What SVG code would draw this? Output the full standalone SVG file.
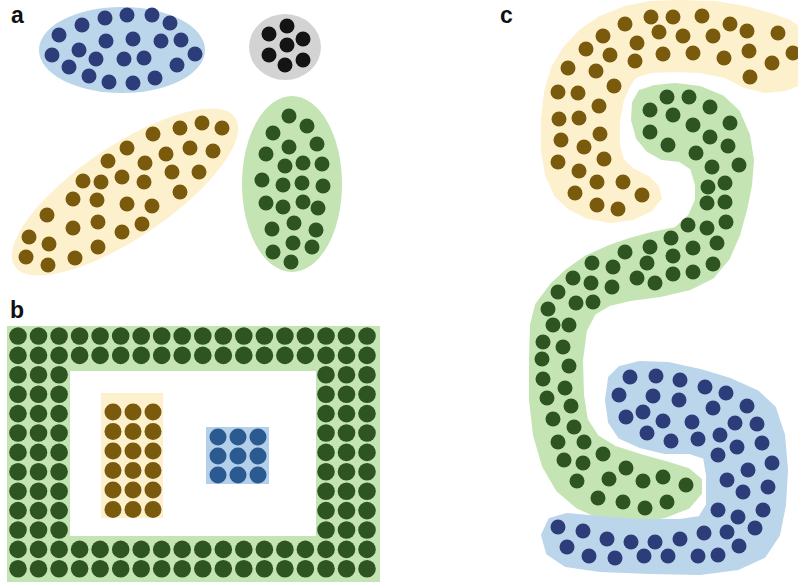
<svg xmlns="http://www.w3.org/2000/svg" width="798" height="584" viewBox="0 0 798 584">
<style>
.lbl{font-family:"Liberation Sans",Arial,sans-serif;font-weight:bold;font-size:23px;fill:#111}
.bbg{fill:#bbd5eb}.bd{fill:#2c3d7a}
.ybg{fill:#fdf0cc}.yd{fill:#7a5a0c}
.gbg{fill:#c4e4b3}.gd{fill:#2d5421}
.kbg{fill:#d3d3d3}.kd{fill:#141414}
.b2bg{fill:#b3cfe9}.b2d{fill:#2b5a91}
</style>
<defs>
<g id="b-row" class="gd">
<circle cx="18" cy="0" r="8.8"/><circle cx="38.5" cy="0" r="8.8"/><circle cx="59.1" cy="0" r="8.8"/><circle cx="79.6" cy="0" r="8.8"/><circle cx="100.1" cy="0" r="8.8"/><circle cx="120.7" cy="0" r="8.8"/><circle cx="141.2" cy="0" r="8.8"/><circle cx="161.7" cy="0" r="8.8"/><circle cx="182.2" cy="0" r="8.8"/><circle cx="202.8" cy="0" r="8.8"/><circle cx="223.3" cy="0" r="8.8"/><circle cx="243.8" cy="0" r="8.8"/><circle cx="264.4" cy="0" r="8.8"/><circle cx="284.9" cy="0" r="8.8"/><circle cx="305.4" cy="0" r="8.8"/><circle cx="326" cy="0" r="8.8"/><circle cx="346.5" cy="0" r="8.8"/><circle cx="367" cy="0" r="8.8"/>
</g>
<g id="b-side" class="gd">
<circle cx="18" cy="0" r="8.8"/><circle cx="38.5" cy="0" r="8.8"/><circle cx="59.1" cy="0" r="8.8"/><circle cx="326" cy="0" r="8.8"/><circle cx="346.5" cy="0" r="8.8"/><circle cx="367" cy="0" r="8.8"/>
</g>
<g id="y3"><circle cx="113" cy="0" r="8.5"/><circle cx="133" cy="0" r="8.5"/><circle cx="153" cy="0" r="8.5"/></g>
<g id="u3"><circle cx="218" cy="0" r="8.5"/><circle cx="238" cy="0" r="8.5"/><circle cx="258" cy="0" r="8.5"/></g>
</defs>
<rect width="798" height="584" fill="#fff"/>

<!-- Panel a -->
<g id="panel-a">
<text class="lbl" x="11" y="23">a</text>
<g id="a-blue">
<ellipse class="bbg" cx="122" cy="50" rx="83" ry="43"/>
<g class="bd">
<circle cx="82" cy="25" r="7.5"/><circle cx="105" cy="18" r="7.5"/><circle cx="127" cy="15" r="7.5"/><circle cx="152" cy="15" r="7.5"/><circle cx="170" cy="23" r="7.5"/>
<circle cx="59" cy="35" r="7.5"/><circle cx="106" cy="41" r="7.5"/><circle cx="133" cy="39" r="7.5"/><circle cx="161" cy="41" r="7.5"/><circle cx="181" cy="40" r="7.5"/>
<circle cx="52" cy="55" r="7.5"/><circle cx="79" cy="50" r="7.5"/><circle cx="96" cy="59" r="7.5"/><circle cx="124" cy="59" r="7.5"/><circle cx="144" cy="58" r="7.5"/><circle cx="195" cy="54" r="7.5"/><circle cx="177" cy="65" r="7.5"/>
<circle cx="69" cy="67" r="7.5"/><circle cx="89" cy="76" r="7.5"/><circle cx="109" cy="82" r="7.5"/><circle cx="133" cy="83" r="7.5"/><circle cx="155" cy="78" r="7.5"/>
</g>
</g>
<g id="a-black">
<ellipse class="kbg" cx="285" cy="47" rx="36" ry="33"/>
<g class="kd">
<circle cx="287" cy="26" r="7.5"/><circle cx="269" cy="34" r="7.5"/><circle cx="303" cy="39" r="7.5"/><circle cx="287" cy="45" r="7.5"/><circle cx="269" cy="55" r="7.5"/><circle cx="303" cy="60" r="7.5"/><circle cx="285" cy="65" r="7.5"/>
</g>
</g>
<g id="a-yellow">
<ellipse class="ybg" cx="0" cy="0" rx="133" ry="46" transform="translate(125,192) rotate(-34)"/>
<g class="yd">
<circle cx="202" cy="123" r="7.5"/><circle cx="222" cy="128" r="7.5"/><circle cx="180" cy="128" r="7.5"/><circle cx="153" cy="134" r="7.5"/><circle cx="190" cy="148" r="7.5"/><circle cx="213" cy="151" r="7.5"/>
<circle cx="127" cy="148" r="7.5"/><circle cx="166" cy="154" r="7.5"/><circle cx="145" cy="163" r="7.5"/><circle cx="108" cy="161" r="7.5"/><circle cx="172" cy="172" r="7.5"/><circle cx="199" cy="172" r="7.5"/>
<circle cx="122" cy="177" r="7.5"/><circle cx="144" cy="182" r="7.5"/><circle cx="83" cy="181" r="7.5"/><circle cx="101" cy="182" r="7.5"/><circle cx="180" cy="192" r="7.5"/>
<circle cx="73" cy="199" r="7.5"/><circle cx="97" cy="200" r="7.5"/><circle cx="127" cy="204" r="7.5"/><circle cx="152" cy="206" r="7.5"/>
<circle cx="47" cy="215" r="7.5"/><circle cx="98" cy="222" r="7.5"/><circle cx="73" cy="228" r="7.5"/><circle cx="122" cy="232" r="7.5"/><circle cx="142" cy="224" r="7.5"/>
<circle cx="29" cy="237" r="7.5"/><circle cx="49" cy="244" r="7.5"/><circle cx="98" cy="247" r="7.5"/><circle cx="26" cy="257" r="7.5"/><circle cx="48" cy="265" r="7.5"/><circle cx="75" cy="258" r="7.5"/>
</g>
</g>
<g id="a-green">
<ellipse class="gbg" cx="292" cy="184" rx="50" ry="88"/>
<g class="gd">
<circle cx="289" cy="116" r="7.5"/><circle cx="307" cy="126" r="7.5"/><circle cx="273" cy="133" r="7.5"/><circle cx="289" cy="147" r="7.5"/><circle cx="317" cy="144" r="7.5"/>
<circle cx="266" cy="154" r="7.5"/><circle cx="285" cy="166" r="7.5"/><circle cx="303" cy="163" r="7.5"/><circle cx="322" cy="164" r="7.5"/>
<circle cx="262" cy="180" r="7.5"/><circle cx="283" cy="185" r="7.5"/><circle cx="302" cy="183" r="7.5"/><circle cx="323" cy="186" r="7.5"/>
<circle cx="266" cy="203" r="7.5"/><circle cx="283" cy="207" r="7.5"/><circle cx="303" cy="202" r="7.5"/><circle cx="318" cy="208" r="7.5"/>
<circle cx="294" cy="223" r="7.5"/><circle cx="272" cy="229" r="7.5"/><circle cx="316" cy="230" r="7.5"/>
<circle cx="293" cy="243" r="7.5"/><circle cx="273" cy="252" r="7.5"/><circle cx="312" cy="247" r="7.5"/><circle cx="291" cy="262" r="7.5"/>
</g>
</g>
</g>

<!-- Panel b -->
<g id="panel-b">
<text class="lbl" x="10" y="318">b</text>
<g id="b-frame">
<path class="gbg" fill-rule="evenodd" d="M7 326H380V582H7Z M70 371V536H316V371Z"/>
<use href="#b-row" y="336"/><use href="#b-row" y="355.4"/>
<use href="#b-side" y="374.8"/><use href="#b-side" y="394.2"/><use href="#b-side" y="413.6"/><use href="#b-side" y="433"/><use href="#b-side" y="452.4"/><use href="#b-side" y="471.8"/><use href="#b-side" y="491.2"/><use href="#b-side" y="510.6"/><use href="#b-side" y="530"/>
<use href="#b-row" y="549.4"/><use href="#b-row" y="568.8"/>
</g>
<g id="b-yellow">
<rect class="ybg" x="101" y="393" width="62" height="125"/>
<g class="yd">
<use href="#y3" y="412"/><use href="#y3" y="431.5"/><use href="#y3" y="451"/><use href="#y3" y="470.5"/><use href="#y3" y="490"/><use href="#y3" y="509.5"/>
</g>
</g>
<g id="b-blue">
<rect class="b2bg" x="206" y="427" width="63" height="57"/>
<g class="b2d">
<use href="#u3" y="437"/><use href="#u3" y="456"/><use href="#u3" y="475"/>
</g>
</g>
</g>

<!-- Panel c -->
<g id="panel-c">
<text class="lbl" x="500" y="23">c</text>
<g id="c-yellow">
<path class="ybg" stroke="#fdf0cc" stroke-width="4" stroke-linejoin="round" d="M798 28 L790 22 L770 15 L745 8 L715 3 L680 2 L650 3 L625 8 L600 18 L580 32 L565 48 L553 68 L546 92 L543 120 L543 150 L547 175 L556 195 L570 208 L588 217 L610 221 L633 218 L650 210 L660 198 L657 187 L648 178 L632 170 L622 160 L618 145 L618 120 L622 100 L628 86 L635 76 L650 71 L672 70 L700 71 L725 76 L745 86 L765 91 L785 89 L798 84 Z"/>
<g class="yd">
<circle cx="651" cy="17" r="7.5"/><circle cx="673" cy="17" r="7.5"/><circle cx="702" cy="16" r="7.5"/><circle cx="730" cy="24" r="7.5"/><circle cx="747" cy="31" r="7.5"/><circle cx="778" cy="33" r="7.5"/><circle cx="793" cy="53" r="7.5"/>
<circle cx="625" cy="24" r="7.5"/><circle cx="659" cy="32" r="7.5"/><circle cx="683" cy="36" r="7.5"/><circle cx="713" cy="36" r="7.5"/><circle cx="749" cy="51" r="7.5"/><circle cx="772" cy="63" r="7.5"/><circle cx="750" cy="77" r="7.5"/>
<circle cx="603" cy="36" r="7.5"/><circle cx="637" cy="43" r="7.5"/><circle cx="663" cy="54" r="7.5"/><circle cx="693" cy="53" r="7.5"/><circle cx="724" cy="58" r="7.5"/>
<circle cx="586" cy="49" r="7.5"/><circle cx="610" cy="55" r="7.5"/><circle cx="635" cy="61" r="7.5"/>
<circle cx="568" cy="68" r="7.5"/><circle cx="596" cy="71" r="7.5"/><circle cx="614" cy="86" r="7.5"/>
<circle cx="558" cy="92" r="7.5"/><circle cx="578" cy="93" r="7.5"/><circle cx="599" cy="106" r="7.5"/>
<circle cx="559" cy="119" r="7.5"/><circle cx="579" cy="118" r="7.5"/><circle cx="600" cy="134" r="7.5"/>
<circle cx="561" cy="140" r="7.5"/><circle cx="584" cy="147" r="7.5"/><circle cx="604" cy="159" r="7.5"/>
<circle cx="558" cy="162" r="7.5"/><circle cx="579" cy="171" r="7.5"/><circle cx="597" cy="182" r="7.5"/><circle cx="623" cy="182" r="7.5"/><circle cx="642" cy="195" r="7.5"/>
<circle cx="575" cy="193" r="7.5"/><circle cx="597" cy="205" r="7.5"/><circle cx="618" cy="209" r="7.5"/>
</g>
</g>
<g id="c-green">
<path class="gbg" stroke="#c4e4b3" stroke-width="4" stroke-linejoin="round" d="M640 92 L655 87 L675 85 L700 88 L722 97 L738 112 L748 135 L752 160 L750 185 L745 210 L738 235 L728 258 L712 277 L690 288 L660 295 L630 299 L609 304 L594 313 L585 330 L581 360 L582 395 L586 420 L597 437 L615 448 L640 456 L665 463 L688 470 L700 480 L700 493 L688 507 L665 516 L635 521 L605 519 L578 507 L558 490 L544 466 L535 435 L531 400 L531 360 L532 325 L537 305 L552 285 L567 271 L587 257 L607 248 L630 240 L652 234 L676 229 L690 216 L697 200 L697 185 L692 168 L680 160 L662 158 L648 150 L638 138 L633 120 L634 103 Z"/>
<g class="gd">
<circle cx="667" cy="97" r="7.5"/><circle cx="689" cy="97" r="7.5"/><circle cx="710" cy="107" r="7.5"/><circle cx="730" cy="123" r="7.5"/>
<circle cx="650" cy="110" r="7.5"/><circle cx="673" cy="115" r="7.5"/><circle cx="693" cy="125" r="7.5"/>
<circle cx="650" cy="132" r="7.5"/><circle cx="710" cy="137" r="7.5"/><circle cx="728" cy="146" r="7.5"/><circle cx="668" cy="145" r="7.5"/><circle cx="696" cy="153" r="7.5"/>
<circle cx="712" cy="167" r="7.5"/><circle cx="739" cy="165" r="7.5"/><circle cx="708" cy="187" r="7.5"/><circle cx="725" cy="183" r="7.5"/>
<circle cx="707" cy="203" r="7.5"/><circle cx="725" cy="202" r="7.5"/><circle cx="688" cy="225" r="7.5"/><circle cx="707" cy="228" r="7.5"/><circle cx="726" cy="222" r="7.5"/>
<circle cx="671" cy="238" r="7.5"/><circle cx="717" cy="243" r="7.5"/><circle cx="693" cy="248" r="7.5"/><circle cx="650" cy="247" r="7.5"/><circle cx="625" cy="252" r="7.5"/>
<circle cx="673" cy="256" r="7.5"/><circle cx="647" cy="263" r="7.5"/><circle cx="713" cy="264" r="7.5"/><circle cx="693" cy="272" r="7.5"/><circle cx="673" cy="274" r="7.5"/>
<circle cx="637" cy="278" r="7.5"/><circle cx="655" cy="283" r="7.5"/><circle cx="613" cy="267" r="7.5"/><circle cx="592" cy="263" r="7.5"/><circle cx="612" cy="287" r="7.5"/>
<circle cx="591" cy="283" r="7.5"/><circle cx="573" cy="278" r="7.5"/><circle cx="558" cy="292" r="7.5"/><circle cx="548" cy="309" r="7.5"/><circle cx="576" cy="303" r="7.5"/><circle cx="593" cy="302" r="7.5"/>
<circle cx="553" cy="325" r="7.5"/><circle cx="569" cy="325" r="7.5"/><circle cx="543" cy="342" r="7.5"/><circle cx="563" cy="347" r="7.5"/>
<circle cx="542" cy="359" r="7.5"/><circle cx="569" cy="366" r="7.5"/><circle cx="543" cy="379" r="7.5"/><circle cx="565" cy="388" r="7.5"/>
<circle cx="547" cy="398" r="7.5"/><circle cx="571" cy="406" r="7.5"/><circle cx="553" cy="419" r="7.5"/><circle cx="574" cy="427" r="7.5"/>
<circle cx="558" cy="442" r="7.5"/><circle cx="584" cy="442" r="7.5"/><circle cx="603" cy="454" r="7.5"/><circle cx="564" cy="460" r="7.5"/><circle cx="583" cy="463" r="7.5"/>
<circle cx="626" cy="468" r="7.5"/><circle cx="577" cy="481" r="7.5"/><circle cx="609" cy="479" r="7.5"/><circle cx="643" cy="481" r="7.5"/><circle cx="663" cy="477" r="7.5"/><circle cx="686" cy="485" r="7.5"/>
<circle cx="598" cy="498" r="7.5"/><circle cx="623" cy="502" r="7.5"/><circle cx="645" cy="508" r="7.5"/><circle cx="667" cy="502" r="7.5"/>
</g>
</g>
<g id="c-blue">
<path class="bbg" stroke="#bbd5eb" stroke-width="4" stroke-linejoin="round" d="M610 378 L620 368 L640 363 L668 364 L700 371 L730 380 L757 392 L774 408 L783 435 L786 470 L784 505 L778 535 L764 556 L738 568 L700 573 L650 572 L600 570 L566 565 L548 553 L543 535 L550 520 L567 515 L600 518 L640 521 L680 521 L700 518 L708 505 L708 475 L705 457 L690 452 L665 452 L640 446 L620 437 L610 422 L607 400 Z"/>
<g class="bd">
<circle cx="630" cy="377" r="7.5"/><circle cx="656" cy="376" r="7.5"/><circle cx="680" cy="380" r="7.5"/><circle cx="705" cy="387" r="7.5"/><circle cx="726" cy="393" r="7.5"/><circle cx="747" cy="406" r="7.5"/>
<circle cx="619" cy="395" r="7.5"/><circle cx="653" cy="396" r="7.5"/><circle cx="679" cy="400" r="7.5"/><circle cx="713" cy="408" r="7.5"/>
<circle cx="626" cy="417" r="7.5"/><circle cx="643" cy="412" r="7.5"/><circle cx="663" cy="421" r="7.5"/><circle cx="692" cy="422" r="7.5"/><circle cx="735" cy="423" r="7.5"/><circle cx="757" cy="424" r="7.5"/>
<circle cx="647" cy="433" r="7.5"/><circle cx="671" cy="441" r="7.5"/><circle cx="698" cy="439" r="7.5"/><circle cx="720" cy="435" r="7.5"/><circle cx="737" cy="447" r="7.5"/><circle cx="762" cy="443" r="7.5"/>
<circle cx="718" cy="455" r="7.5"/><circle cx="748" cy="470" r="7.5"/><circle cx="772" cy="463" r="7.5"/>
<circle cx="727" cy="480" r="7.5"/><circle cx="743" cy="492" r="7.5"/><circle cx="768" cy="487" r="7.5"/>
<circle cx="718" cy="510" r="7.5"/><circle cx="738" cy="517" r="7.5"/><circle cx="763" cy="510" r="7.5"/>
<circle cx="704" cy="533" r="7.5"/><circle cx="727" cy="532" r="7.5"/><circle cx="755" cy="528" r="7.5"/><circle cx="739" cy="546" r="7.5"/>
<circle cx="558" cy="527" r="7.5"/><circle cx="583" cy="531" r="7.5"/><circle cx="607" cy="539" r="7.5"/><circle cx="631" cy="542" r="7.5"/><circle cx="655" cy="542" r="7.5"/><circle cx="680" cy="539" r="7.5"/>
<circle cx="567" cy="547" r="7.5"/><circle cx="589" cy="556" r="7.5"/><circle cx="615" cy="558" r="7.5"/><circle cx="644" cy="556" r="7.5"/><circle cx="668" cy="556" r="7.5"/><circle cx="698" cy="556" r="7.5"/><circle cx="718" cy="555" r="7.5"/>
</g>
</g>
</g>
</svg>
